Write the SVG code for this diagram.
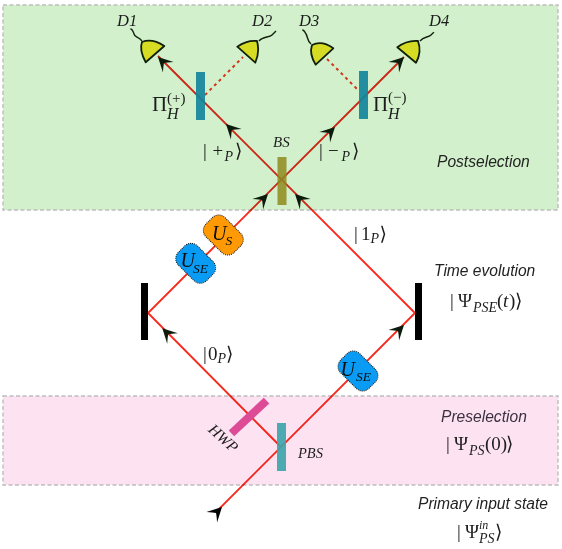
<svg xmlns="http://www.w3.org/2000/svg" xmlns:xlink="http://www.w3.org/1999/xlink" width="562" height="549" viewBox="0 0 562 549">
<style>
text{font-family:"Liberation Serif","DejaVu Serif",serif;fill:#1c1c1c}
.i{font-style:italic}
.s{font-family:"Liberation Sans","DejaVu Sans",sans-serif;font-style:italic;font-size:15.6px;fill:#222}
.m{font-size:19px}
.sub{font-size:14px;font-style:italic}
.beam{fill:none;stroke:#f52a1c;stroke-width:1.9}
.dot{fill:none;stroke:#ff3a20;stroke-width:2;stroke-dasharray:3 3.5}
.region{mix-blend-mode:multiply;stroke:#bdbdbd;stroke-width:1.4;stroke-dasharray:4 2.5}
.mirror{fill:#000}
.det{fill:#d6dc24;stroke:#10200c;stroke-width:1.8;stroke-linejoin:round}
.wire{fill:none;stroke:#10200c;stroke-width:1.4}
.blob{stroke:#111;stroke-width:1;stroke-dasharray:1 1}
.u{font-style:italic;font-size:20px;fill:#0a0a0a}
.us{font-style:italic;font-size:13.5px;fill:#0a0a0a}
.ah{fill:#0c1c0c}
</style>
<defs>
<path id="arr" d="M0 0L-14.5 -7.5Q-10 -2.5 -8.5 0Q-10 2.5 -14.5 7.5Z"/>
</defs>
<g id="connectors">
<path class="beam" d="M216 512L415 313L158 56"/>
<path class="beam" d="M281 447L148 313L404 57"/>
<path class="dot" d="M205 95L243 57"/>
<path class="dot" d="M327 59L359 91"/>
</g>
<rect id="postselection" class="region" x="3" y="5" width="555" height="205" fill="#d2f0cb"/>
<rect id="preselection" class="region" x="3" y="396" width="555" height="89" fill="#fde3f2"/>
<g id="arrowheads" class="ah">
<use xlink:href="#arr" href="#arr" transform="translate(158 57) rotate(225)"/>
<use xlink:href="#arr" href="#arr" transform="translate(226 124) rotate(225)"/>
<use xlink:href="#arr" href="#arr" transform="translate(404 57) rotate(-45)"/>
<use xlink:href="#arr" href="#arr" transform="translate(335 127) rotate(-45)"/>
<use xlink:href="#arr" href="#arr" transform="translate(268 194) rotate(-45)"/>
<use xlink:href="#arr" href="#arr" transform="translate(295 194) rotate(225)"/>
<use xlink:href="#arr" href="#arr" transform="translate(162.3 328.3) rotate(225)"/>
<use xlink:href="#arr" href="#arr" transform="translate(404 325) rotate(-45)"/>
<use xlink:href="#arr" href="#arr" transform="translate(222 507) rotate(-45)" style="fill:#000"/>
</g>
<g id="bs"><rect x="277.5" y="157" width="9" height="48" fill="#8f8a1e" fill-opacity=".85"/><text class="i" x="273" y="147" font-size="15">BS</text></g>
<g id="pol-plus"><rect x="196" y="72" width="9" height="48" fill="#12869c" fill-opacity=".92"/>
<text x="152" y="111" font-size="21">Π</text><text x="167" y="103" font-size="15">(+)</text><text class="i" x="167" y="119" font-size="16">H</text></g>
<g id="pol-minus"><rect x="359" y="71" width="9" height="48" fill="#12869c" fill-opacity=".92"/>
<text x="373" y="111" font-size="21">Π</text><text x="388" y="102" font-size="15">(−)</text><text class="i" x="388" y="119" font-size="16">H</text></g>
<g id="d1"><path class="det" d="M164.3 46L145.7 62.3Q139 50 142 42Q152 38 164.3 46Z"/><path class="wire" d="M142 41C138 36 135 38 134 34C133 31 133 30 130.5 28.7"/><text class="i" x="117" y="26" font-size="16.5">D1</text></g>
<g id="d2"><path class="det" d="M237.3 46.7L255.3 62.7Q260 52 257 41Q247 40 237.3 46.7Z"/><path class="wire" d="M259 41C263 36 269 38 272 35C274 33 275 32 276 31"/><text class="i" x="252" y="26" font-size="16.5">D2</text></g>
<g id="d3"><path class="det" d="M333.3 48.3L315.7 64.7Q309 54 312 45Q322 40 333.3 48.3Z"/><path class="wire" d="M311 44C307 41 308 37 306 34C305 32 304 30 302.3 30"/><text class="i" x="299" y="26" font-size="16.5">D3</text></g>
<g id="d4"><path class="det" d="M397.3 47.3L416 62.7Q422 52 418 41Q407 40 397.3 47.3Z"/><path class="wire" d="M420 41C424 36 428 38 431 35C432 34 433 33 434 32.3"/><text class="i" x="429" y="26" font-size="16.5">D4</text></g>
<g id="mirror-left"><rect class="mirror" x="141" y="283" width="7" height="57"/></g>
<g id="mirror-right"><rect class="mirror" x="415" y="283" width="7" height="57"/></g>
<g id="us"><rect class="blob" x="-20" y="-13.5" width="40" height="27" rx="9" fill="#ff9a05" transform="translate(223.3 235) rotate(45)"/><text class="u" x="212" y="240">U</text><text class="us" x="225.5" y="245">S</text></g>
<g id="use1"><rect class="blob" x="-20" y="-13.5" width="40" height="27" rx="9" fill="#0a9cf5" transform="translate(195.7 263.3) rotate(45)"/><text class="u" x="180.5" y="267">U</text><text class="us" x="193" y="273">SE</text></g>
<g id="use2"><rect class="blob" x="-20" y="-13.5" width="40" height="27" rx="9" fill="#0a9cf5" transform="translate(358 371) rotate(45)"/><text class="u" x="340.5" y="376">U</text><text class="us" x="356" y="381">SE</text></g>
<g id="hwp"><rect x="-24" y="-4" width="48" height="8" fill="#dd4a96" transform="translate(249 417) rotate(-43)"/><text class="i" font-size="15.5" text-anchor="middle" transform="translate(220 442) rotate(42)">HWP</text></g>
<g id="pbs"><rect x="277" y="423" width="9" height="48" fill="#3fa5ab" fill-opacity=".92"/><text class="i" x="298" y="458" font-size="14.5">PBS</text></g>
<g id="labels">
<text class="m"><tspan x="203" y="157">|</tspan><tspan x="212.5" y="157">+</tspan><tspan class="sub" x="224.5" y="161">P</tspan><tspan x="235" y="157">⟩</tspan></text>
<text class="m"><tspan x="319" y="157">|</tspan><tspan x="328" y="157">−</tspan><tspan class="sub" x="341.5" y="161">P</tspan><tspan x="352" y="157">⟩</tspan></text>
<text class="m"><tspan x="354" y="240">|</tspan><tspan x="361" y="240">1</tspan><tspan class="sub" x="370.5" y="243">P</tspan><tspan x="379.5" y="240">⟩</tspan></text>
<text class="m"><tspan x="203" y="360">|</tspan><tspan x="208" y="360">0</tspan><tspan class="sub" x="217.5" y="363">P</tspan><tspan x="226" y="360">⟩</tspan></text>
<text class="m"><tspan x="450" y="307">|</tspan><tspan x="458" y="307">Ψ</tspan><tspan class="sub" x="473" y="312">PSE</tspan><tspan x="497" y="307">(</tspan><tspan class="i" x="503" y="307">t</tspan><tspan x="509" y="307">)</tspan><tspan x="515" y="307">⟩</tspan></text>
<text class="m"><tspan x="446" y="450">|</tspan><tspan x="454" y="450">Ψ</tspan><tspan class="sub" x="469" y="455">PS</tspan><tspan x="485" y="450">(0)</tspan><tspan x="506" y="450">⟩</tspan></text>
<text class="m"><tspan x="457" y="538">|</tspan><tspan x="465" y="538">Ψ</tspan><tspan style="font-size:12px;font-style:italic" x="479" y="529">in</tspan><tspan class="sub" x="479" y="543">PS</tspan><tspan x="495" y="538">⟩</tspan></text>
<text class="s" x="437" y="167">Postselection</text>
<text class="s" x="434" y="276">Time evolution</text>
<text class="s" x="441" y="422" style="fill:#3a3040">Preselection</text>
<text class="s" x="418" y="509">Primary input state</text>
</g>
</svg>
